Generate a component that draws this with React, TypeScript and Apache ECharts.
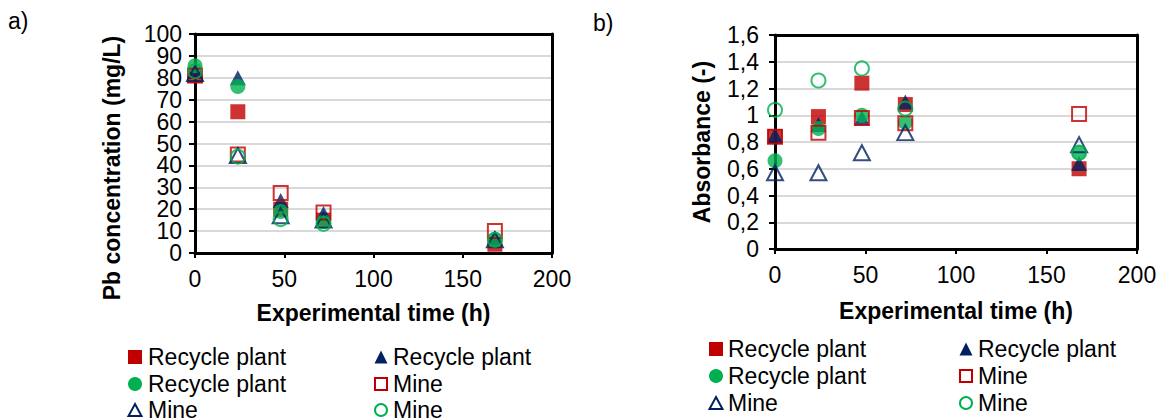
import React, { useEffect, useRef } from "react";
import * as echarts from "echarts";

const FONT = "'Liberation Sans', Arial, sans-serif";
const RED = "#C00000";
const NAVY = "#002060";
const GREEN = "#00B050";

const times = [0, 24, 48, 72, 168];
const xTicks = { min: 0, max: 200, interval: 50 };

// a) Pb concentration (mg/L)
const pbTicks = { max: 100, interval: 10 };
const pbRecycleSquare = [81, 64.5, 20, 15, 4];
const pbRecycleTriangle = [83, 80, 24, 18, 7];
const pbRecycleCircle = [85.5, 76, 19, 14.3, 6.3];
const pbMineSquare = [81, 45, 27.4, 18.5, 10];
const pbMineTriangle = [82, 44.5, 17, 15, 6];
const pbMineCircle = [83, 44, 15.5, 13.3, 6];

// b) Absorbance (-)
const absTicks = { max: 1.6, interval: 0.2 };
const absRecycleSquare = [0.84, 0.99, 1.24, 1.08, 0.6];
const absRecycleTriangle = [0.85, 0.93, 0.98, 1.1, 0.64];
const absRecycleCircle = [0.66, 0.9, 1.0, 0.945, 0.72];
const absMineSquare = [0.84, 0.87, 0.98, 0.94, 1.01];
const absMineTriangle = [0.57, 0.57, 0.72, 0.87, 0.78];
const absMineCircle = [1.04, 1.26, 1.35, 1.05, 0.72];

const legendLabels = ["Recycle plant", "Recycle plant", "Recycle plant", "Mine", "Mine", "Mine"];

type Kind = { symbol: string; color: string; hollow: boolean; shape: "sq" | "tri" | "circ" };
const kinds: Kind[] = [
  { symbol: "rect", color: RED, hollow: false, shape: "sq" },
  { symbol: "triangle", color: NAVY, hollow: false, shape: "tri" },
  { symbol: "circle", color: GREEN, hollow: false, shape: "circ" },
  { symbol: "rect", color: RED, hollow: true, shape: "sq" },
  { symbol: "triangle", color: NAVY, hollow: true, shape: "tri" },
  { symbol: "circle", color: GREEN, hollow: true, shape: "circ" },
];

function mkSeries(idx: number, values: number[], k: Kind, name: string) {
  return {
    type: "scatter",
    name,
    xAxisIndex: idx,
    yAxisIndex: idx,
    data: times.map((t, i) => [t, values[i]]),
    symbol: k.symbol,
    symbolSize: k.shape === "tri" ? [16, 15] : k.hollow ? 14 : 15,
    itemStyle: k.hollow
      ? { color: "rgba(255,255,255,0)", borderColor: k.color, borderWidth: 2 }
      : { color: k.color },
    emphasis: { disabled: true },
    z: 5,
  };
}

function legendMarker(k: Kind, cx: number, cy: number) {
  const s = 13;
  const style = k.hollow
    ? { fill: "none", stroke: k.color, lineWidth: 2 }
    : { fill: k.color };
  if (k.shape === "sq") {
    const sz = k.hollow ? 12 : 14;
    return { type: "rect", shape: { x: cx - sz / 2, y: cy - sz / 2, width: sz, height: sz }, style };
  }
  if (k.shape === "circ") {
    return { type: "circle", shape: { cx, cy, r: k.hollow ? 6 : 7 }, style };
  }
  const h = k.hollow ? 12 : 13;
  return {
    type: "polygon",
    shape: { points: [[cx, cy - h / 2], [cx + s / 2, cy + h / 2], [cx - s / 2, cy + h / 2]] },
    style,
  };
}

function legendGroup(col1: [number, number], col2: [number, number], rows: number[]) {
  const els: any[] = [];
  kinds.forEach((k, i) => {
    const col = i % 2 === 0 ? col1 : col2;
    const row = rows[Math.floor(i / 2)];
    els.push(legendMarker(k, col[0], row));
    els.push({
      type: "text",
      x: col[1],
      y: row,
      style: { text: legendLabels[i], font: `23px ${FONT}`, fill: "#000", align: "left", verticalAlign: "middle" },
    });
  });
  return els;
}

function xAxisCfg(idx: number, gap: number) {
  return {
    gridIndex: idx,
    type: "value",
    min: xTicks.min,
    max: xTicks.max,
    interval: xTicks.interval,
    axisLine: { show: true, onZero: false, lineStyle: { color: "#000", width: 3 } },
    axisTick: { show: true, length: 5, lineStyle: { color: "#000", width: 2 } },
    axisLabel: { color: "#000", fontSize: 23, fontFamily: FONT, margin: 14, showMinLabel: true, showMaxLabel: true },
    splitLine: { show: false },
    name: "Experimental time (h)",
    nameLocation: "middle",
    nameGap: gap,
    nameTextStyle: { color: "#000", fontSize: 23, fontWeight: "bold", fontFamily: FONT },
    z: 3,
  };
}

function frameXAxis(idx: number) {
  return {
    gridIndex: idx,
    type: "value",
    position: "top",
    min: xTicks.min,
    max: xTicks.max,
    interval: xTicks.interval,
    axisLine: { show: true, onZero: false, lineStyle: { color: "#000", width: 3 } },
    axisTick: { show: false },
    axisLabel: { show: false },
    splitLine: { show: false },
    z: 3,
  };
}

// Main y axis: line, ticks, gridlines and the labels of even steps
function yAxisCfg(idx: number, t: { max: number; interval: number }, margin: number, fmt: (v: number) => string) {
  return {
    gridIndex: idx,
    type: "value",
    min: 0,
    max: t.max,
    interval: t.interval,
    axisLine: { show: true, onZero: false, lineStyle: { color: "#000", width: 3 } },
    axisTick: { show: true, length: 6, lineStyle: { color: "#000", width: 2 } },
    axisLabel: {
      color: "#000", fontSize: 23, fontFamily: FONT, margin,
      formatter: (v: number) => (Math.round(v / t.interval) % 2 === 0 ? fmt(v) : ""),
      showMinLabel: true, showMaxLabel: true,
    },
    splitLine: { show: true, lineStyle: { color: "#d9d9d9", width: 2 } },
    z: 3,
  };
}

// Companion y axis at the same place: only the labels of odd steps
function yOddLabels(idx: number, t: { max: number; interval: number }, margin: number, fmt: (v: number) => string) {
  return {
    gridIndex: idx,
    type: "value",
    position: "left",
    min: 0,
    max: t.max,
    interval: t.interval,
    axisLine: { show: false, onZero: false },
    axisTick: { show: false },
    axisLabel: {
      color: "#000", fontSize: 23, fontFamily: FONT, margin,
      formatter: (v: number) => (Math.round(v / t.interval) % 2 === 1 ? fmt(v) : ""),
      showMinLabel: false, showMaxLabel: false,
    },
    splitLine: { show: false },
    z: 3,
  };
}

function frameYAxis(idx: number, t: { max: number; interval: number }) {
  return {
    gridIndex: idx,
    type: "value",
    position: "right",
    min: 0,
    max: t.max,
    interval: t.interval,
    axisLine: { show: true, onZero: false, lineStyle: { color: "#000", width: 3 } },
    axisTick: { show: false },
    axisLabel: { show: false },
    splitLine: { show: false },
    z: 3,
  };
}

const fmtInt = (v: number) => String(Math.round(v));
const fmtComma = (v: number) => String(+v.toFixed(1)).replace(".", ",");

export default function App() {
  const ref = useRef<HTMLDivElement>(null);
  useEffect(() => {
    if (!ref.current) return;
    const chart = echarts.init(ref.current, null, { renderer: "svg" });
    const pbSets = [pbRecycleSquare, pbRecycleTriangle, pbRecycleCircle, pbMineSquare, pbMineTriangle, pbMineCircle];
    const absSets = [absRecycleSquare, absRecycleTriangle, absRecycleCircle, absMineSquare, absMineTriangle, absMineCircle];
    const series: any[] = [];
    pbSets.forEach((v, i) => series.push(mkSeries(0, v, kinds[i], `a-${i}`)));
    absSets.forEach((v, i) => series.push(mkSeries(1, v, kinds[i], `b-${i}`)));
    chart.setOption({
      animation: false,
      backgroundColor: "#fff",
      textStyle: { fontFamily: FONT },
      grid: [
        { left: 195, top: 34, width: 357, height: 219 },
        { left: 775, top: 35, width: 362, height: 214 },
      ],
      xAxis: [xAxisCfg(0, 48), xAxisCfg(1, 50), frameXAxis(0), frameXAxis(1)],
      yAxis: [
        yAxisCfg(0, pbTicks, 13, fmtInt),
        yAxisCfg(1, absTicks, 16, fmtComma),
        frameYAxis(0, pbTicks),
        frameYAxis(1, absTicks),
        yOddLabels(0, pbTicks, 13, fmtInt),
        yOddLabels(1, absTicks, 16, fmtComma),
      ],
      series,
      graphic: [
        { type: "text", x: 8, y: 21, style: { text: "a)", font: `23px ${FONT}`, fill: "#000", verticalAlign: "middle" } },
        { type: "text", x: 593, y: 23, style: { text: "b)", font: `23px ${FONT}`, fill: "#000", verticalAlign: "middle" } },
        {
          type: "text", x: 112, y: 168, rotation: Math.PI / 2,
          style: { text: "Pb concentration (mg/L)", font: `bold 23px ${FONT}`, fill: "#000", align: "center", verticalAlign: "middle" },
        },
        {
          type: "text", x: 702, y: 142, rotation: Math.PI / 2,
          style: { text: "Absorbance (-)", font: `bold 23px ${FONT}`, fill: "#000", align: "center", verticalAlign: "middle" },
        },
        ...legendGroup([135, 148], [381, 393], [357, 384, 410]),
        ...legendGroup([716, 728], [966, 978], [349, 376, 403]),
      ],
    });
    return () => chart.dispose();
  }, []);
  return <div ref={ref} style={{ position: "absolute", left: 0, top: 0, width: 1161, height: 420 }} />;
}
